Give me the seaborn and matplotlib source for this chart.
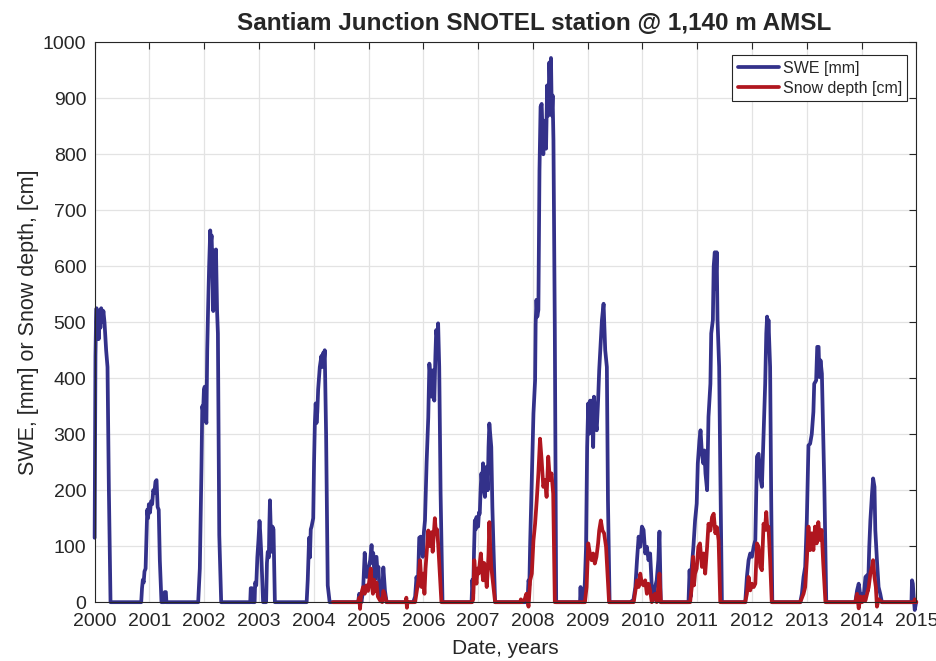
import matplotlib
matplotlib.use("Agg")
import matplotlib.pyplot as plt
import pandas as pd
import seaborn as sns

# SWE [mm]: decimal year / value
swe_year = [
    2000.000, 2000.008, 2000.015, 2000.025, 2000.035, 2000.045, 2000.06, 2000.075, 2000.09, 2000.105,
    2000.12, 2000.14, 2000.16, 2000.18, 2000.21, 2000.235, 2000.26, 2000.29,
    2000.85, 2000.865, 2000.88, 2000.895, 2000.91, 2000.93, 2000.945, 2000.96, 2000.975, 2000.99,
    2001.01, 2001.03, 2001.05, 2001.07, 2001.09, 2001.11, 2001.13, 2001.15, 2001.17, 2001.19, 2001.22,
    2001.27, 2001.28, 2001.30, 2001.31,
    2001.89, 2001.92, 2001.94, 2001.95, 2001.965, 2001.98, 2001.995, 2002.01, 2002.025, 2002.04,
    2002.055, 2002.07, 2002.09, 2002.11, 2002.12, 2002.135, 2002.15, 2002.165, 2002.18, 2002.20,
    2002.215, 2002.235, 2002.25, 2002.275, 2002.31,
    2002.84, 2002.85, 2002.87, 2002.88, 2002.92, 2002.93, 2002.95, 2002.97, 2002.99, 2003.01,
    2003.025, 2003.04, 2003.06, 2003.075, 2003.13, 2003.145, 2003.16, 2003.18, 2003.19, 2003.20,
    2003.215, 2003.23, 2003.245, 2003.265, 2003.29,
    2003.87, 2003.89, 2003.915, 2003.93, 2003.945, 2003.96, 2003.99, 2004.005, 2004.02, 2004.035,
    2004.05, 2004.065, 2004.08, 2004.095, 2004.11, 2004.125, 2004.14, 2004.155, 2004.17, 2004.185,
    2004.20, 2004.225, 2004.255, 2004.29,
    2004.81, 2004.83, 2004.85, 2004.87, 2004.90, 2004.93, 2004.95, 2004.97, 2005.00, 2005.03,
    2005.055, 2005.07, 2005.085, 2005.10, 2005.115, 2005.13, 2005.145, 2005.165, 2005.18, 2005.20,
    2005.21, 2005.24, 2005.255, 2005.27, 2005.285, 2005.30, 2005.33,
    2005.815, 2005.85, 2005.875, 2005.90, 2005.925, 2005.95, 2005.97, 2005.99, 2006.01, 2006.03,
    2006.06, 2006.09, 2006.11, 2006.13, 2006.15, 2006.17, 2006.185, 2006.20, 2006.22, 2006.235,
    2006.255, 2006.27, 2006.29, 2006.315, 2006.35,
    2006.88, 2006.895, 2006.91, 2006.925, 2006.94, 2006.955, 2006.97, 2007.00, 2007.015, 2007.03,
    2007.045, 2007.06, 2007.075, 2007.09, 2007.105, 2007.125, 2007.14, 2007.157, 2007.175, 2007.19,
    2007.205, 2007.22, 2007.24, 2007.26, 2007.28, 2007.31,
    2007.90, 2007.92, 2007.935, 2007.95, 2007.98, 2008.01, 2008.04, 2008.05, 2008.065, 2008.08,
    2008.10, 2008.12, 2008.14, 2008.16, 2008.175, 2008.19, 2008.205, 2008.22, 2008.24, 2008.26,
    2008.28, 2008.30, 2008.315, 2008.33, 2008.345, 2008.36, 2008.375, 2008.40, 2008.425,
    2008.86, 2008.87, 2008.88, 2008.93, 2008.95, 2008.97, 2008.99, 2009.01, 2009.03, 2009.045,
    2009.06, 2009.075, 2009.10, 2009.115, 2009.135, 2009.165, 2009.19, 2009.21, 2009.24, 2009.26,
    2009.29, 2009.31, 2009.32, 2009.35, 2009.37, 2009.40,
    2009.775, 2009.835, 2009.87, 2009.90, 2009.93, 2009.96, 2009.99, 2010.02, 2010.05, 2010.08,
    2010.11, 2010.14, 2010.17, 2010.20, 2010.23, 2010.26, 2010.29, 2010.31, 2010.335,
    2010.84, 2010.86, 2010.88, 2010.90, 2010.93, 2010.96, 2010.99, 2011.01, 2011.04, 2011.06,
    2011.085, 2011.11, 2011.13, 2011.15, 2011.18, 2011.205, 2011.24, 2011.255, 2011.285, 2011.30,
    2011.32, 2011.335, 2011.355, 2011.37, 2011.40, 2011.42, 2011.45,
    2011.876, 2011.906, 2011.937, 2011.967, 2011.998, 2012.03, 2012.06, 2012.09, 2012.12, 2012.15,
    2012.18, 2012.21, 2012.24, 2012.26, 2012.275, 2012.29, 2012.30, 2012.33, 2012.35, 2012.37,
    2012.88, 2012.91, 2012.94, 2012.97, 2013.00, 2013.03, 2013.06, 2013.09, 2013.12, 2013.135,
    2013.17, 2013.19, 2013.215, 2013.23, 2013.25, 2013.275, 2013.30, 2013.32, 2013.355,
    2013.886, 2013.917, 2013.947, 2013.98, 2014.01, 2014.04, 2014.07, 2014.10, 2014.117, 2014.14,
    2014.16, 2014.19, 2014.21, 2014.235, 2014.25, 2014.28, 2014.31, 2014.34, 2014.37,
    2014.91, 2014.92, 2014.935, 2014.95, 2014.97, 2014.995,
]
swe_mm = [
    115, 300, 440, 500, 525, 470, 520, 470, 510, 490,
    525, 500, 520, 500, 450, 420, 200, 0,
    0, 25, 40, 35, 55, 60, 110, 165, 150, 175,
    160, 180, 175, 200, 195, 215, 218, 170, 165, 75, 0,
    0, 18, 18, 0,
    0, 60, 180, 240, 350, 340, 380, 385, 330, 320,
    450, 520, 600, 664, 640, 655, 600, 520, 628, 560,
    630, 520, 480, 120, 0,
    0, 25, 25, 0, 0, 35, 30, 80, 110, 145,
    120, 90, 40, 0, 0, 70, 90, 80, 140, 182,
    130, 90, 135, 130, 0,
    0, 40, 115, 80, 130, 135, 150, 250, 320, 355,
    320, 340, 380, 400, 420, 430, 440, 420, 445, 430,
    450, 300, 30, 0,
    0, 15, 10, 0, 20, 88, 50, 45, 60, 75,
    102, 70, 88, 60, 40, 80, 81, 50, 63, 20,
    10, 5, 30, 62, 40, 20, 0,
    0, 10, 45, 27, 115, 117, 100, 81, 125, 146,
    250, 330, 426, 400, 367, 414, 380, 360, 440, 486,
    470, 498, 420, 194, 0,
    0, 40, 15, 90, 146, 130, 152, 135, 160, 158,
    200, 230, 210, 248, 200, 188, 230, 242, 200, 277,
    319, 300, 277, 170, 99, 0,
    0, 39, 30, 105, 218, 337, 396, 498, 540, 510,
    522, 771, 885, 890, 840, 800, 860, 853, 810, 923,
    869, 964, 920, 972, 869, 905, 825, 486, 0,
    0, 27, 0, 0, 40, 99, 277, 355, 301, 360,
    337, 360, 277, 367, 330, 307, 360, 414, 470, 504,
    533, 480, 450, 420, 182, 0,
    0, 4, 27, 75, 117, 99, 135, 129, 87, 99,
    75, 87, 27, 4, 27, 39, 75, 126, 0,
    0, 57, 10, 63, 99, 146, 176, 248, 289, 307,
    265, 248, 271, 230, 200, 331, 390, 480, 504, 600,
    625, 560, 625, 504, 420, 242, 0,
    0, 45, 75, 87, 81, 99, 111, 260, 265, 224,
    206, 295, 390, 480, 510, 470, 504, 420, 182, 0,
    0, 15, 45, 63, 146, 280, 283, 300, 340, 390,
    396, 456, 456, 402, 432, 408, 300, 206, 0,
    0, 21, 33, 10, 15, 12, 45, 48, 21, 99,
    146, 194, 221, 206, 129, 75, 27, 15, 0,
    0, 39, 33, 10, -14, 0,
]

# Snow depth [cm], recorded from late 2004 on
depth_year = [
    2004.35, 2004.81, 2004.83, 2004.845, 2004.86, 2004.88, 2004.90, 2004.93, 2004.96, 2004.99,
    2005.02, 2005.04, 2005.06, 2005.08, 2005.10, 2005.12, 2005.145, 2005.17, 2005.21, 2005.25,
    2005.27, 2005.29, 2005.33,
    2005.68, 2005.69, 2005.70, 2005.71,
    2005.85, 2005.88, 2005.91, 2005.94, 2005.97, 2006.00, 2006.02, 2006.04, 2006.06, 2006.09,
    2006.12, 2006.15, 2006.17, 2006.19, 2006.21, 2006.23, 2006.25, 2006.27, 2006.30, 2006.33,
    2006.89, 2006.91, 2006.93, 2006.95, 2006.97, 2006.99, 2007.01, 2007.03, 2007.05, 2007.07,
    2007.09, 2007.11, 2007.125, 2007.14, 2007.157, 2007.175, 2007.19, 2007.205, 2007.22, 2007.24,
    2007.26, 2007.28, 2007.31,
    2007.77, 2007.78, 2007.80, 2007.85, 2007.88, 2007.90, 2007.92, 2007.95, 2007.98, 2008.01,
    2008.04, 2008.07, 2008.10, 2008.13, 2008.16, 2008.19, 2008.22, 2008.25, 2008.28, 2008.31,
    2008.34, 2008.37, 2008.40,
    2008.95, 2008.98, 2009.01, 2009.04, 2009.07, 2009.10, 2009.13, 2009.16, 2009.19, 2009.21,
    2009.24, 2009.27, 2009.30, 2009.335, 2009.39,
    2009.84, 2009.90, 2009.93, 2009.96, 2009.99, 2010.02, 2010.05, 2010.08, 2010.11, 2010.14,
    2010.17, 2010.20, 2010.23, 2010.26, 2010.29, 2010.31, 2010.335,
    2010.87, 2010.90, 2010.925, 2010.94, 2010.96, 2010.99, 2011.02, 2011.05, 2011.085, 2011.115,
    2011.145, 2011.18, 2011.205, 2011.24, 2011.27, 2011.30, 2011.33, 2011.36, 2011.39, 2011.42,
    2011.876, 2011.906, 2011.937, 2011.967, 2011.998, 2012.03, 2012.06, 2012.09, 2012.12, 2012.15,
    2012.18, 2012.21, 2012.235, 2012.26, 2012.28, 2012.30, 2012.33, 2012.36,
    2012.88, 2012.94, 2012.97, 2013.00, 2013.03, 2013.06, 2013.09, 2013.12, 2013.15, 2013.18,
    2013.21, 2013.24, 2013.27, 2013.30, 2013.34,
    2013.886, 2013.917, 2013.947, 2013.98, 2014.01, 2014.04, 2014.07, 2014.10, 2014.13, 2014.16,
    2014.19, 2014.21, 2014.235, 2014.26, 2014.28, 2014.31, 2014.37,
    2014.96, 2014.97, 2014.995, 2015.0,
]
depth_cm = [
    0, 0, 8, -12, 10, 20, 27, 15, 30, 20,
    45, 60, 30, 15, 40, 20, 35, 10, 3, 0,
    20, 15, 0,
    0, 8, -10, 0,
    0, 20, 39, 75, 27, 51, 15, 60, 87, 128,
    100, 125, 90, 120, 150, 123, 130, 105, 51, 0,
    0, 5, 75, 50, 33, 60, 51, 70, 87, 60,
    39, 70, 63, 45, 27, 55, 87, 143, 100, 63,
    45, 27, 0,
    0, 5, 0, 5, 15, 5, -8, 39, 51, 110,
    140, 182, 230, 292, 253, 206, 218, 188, 260, 218,
    230, 194, 0,
    0, 27, 105, 87, 75, 87, 69, 81, 105, 128,
    146, 128, 123, 99, 0,
    0, 39, 27, 51, 33, 30, 39, 15, 33, 21,
    0, 10, 15, 0, 27, 51, 0,
    0, 27, 81, 30, 51, 60, 99, 105, 63, 87,
    51, 99, 140, 128, 152, 158, 123, 134, 110, 0,
    0, 15, 45, 21, 33, 27, 33, 105, 99, 63,
    57, 140, 129, 161, 129, 135, 75, 0,
    0, 15, 27, 75, 135, 93, 123, 93, 135, 105,
    143, 111, 129, 69, 0,
    0, 15, -11, 10, 0, 10, 3, 15, 27, 51,
    63, 75, 45, 27, -8, 5, 0,
    0, 5, 0, 0,
]

df = pd.concat([
    pd.DataFrame({"year": swe_year, "value": swe_mm, "series": "SWE [mm]"}),
    pd.DataFrame({"year": depth_year, "value": depth_cm, "series": "Snow depth [cm]"}),
])

sns.set_style("whitegrid")
plt.rcParams["font.family"] = ["Liberation Sans", "DejaVu Sans"]

fig, ax = plt.subplots(figsize=(9.37, 6.61), dpi=100)
fig.subplots_adjust(left=0.101, right=0.978, top=0.936, bottom=0.089)

palette = {"SWE [mm]": "#33318a", "Snow depth [cm]": "#b0161f"}
sns.lineplot(data=df, x="year", y="value", hue="series", palette=palette,
             estimator=None, sort=False, linewidth=2.7, ax=ax)
for line in ax.get_lines():
    line.set_clip_on(False)

ax.set_xlim(2000, 2015)
ax.set_ylim(0, 1000)
ax.set_xticks(range(2000, 2016))
ax.set_yticks(range(0, 1001, 100))
ax.grid(True, color="#e3e3e3", linewidth=0.9)
for s in ax.spines.values():
    s.set_color("#262626")
    s.set_linewidth(0.8)
ax.tick_params(direction="in", length=5, width=0.8, color="#262626",
               top=True, right=True, labelsize=14, labelcolor="#262626")
ax.tick_params(axis="x", pad=8)
ax.tick_params(axis="y", pad=6)

ax.set_xlabel("Date, years", fontsize=15, color="#262626", labelpad=6)
ax.set_ylabel("SWE, [mm] or Snow depth, [cm]", fontsize=15.5, color="#262626", labelpad=3)
ax.set_title("Santiam Junction SNOTEL station @ 1,140 m AMSL", fontsize=17.5,
             fontweight="bold", x=0.535, pad=9)

leg = ax.legend(loc="upper right", bbox_to_anchor=(0.989, 0.977), borderaxespad=0,
                fontsize=11.5, frameon=True, fancybox=False,
                edgecolor="#262626", framealpha=1, handlelength=2.6,
                borderpad=0.35, labelspacing=0.3, handletextpad=0.2)
leg.get_frame().set_linewidth(0.8)

plt.savefig("out.png", dpi=100)
